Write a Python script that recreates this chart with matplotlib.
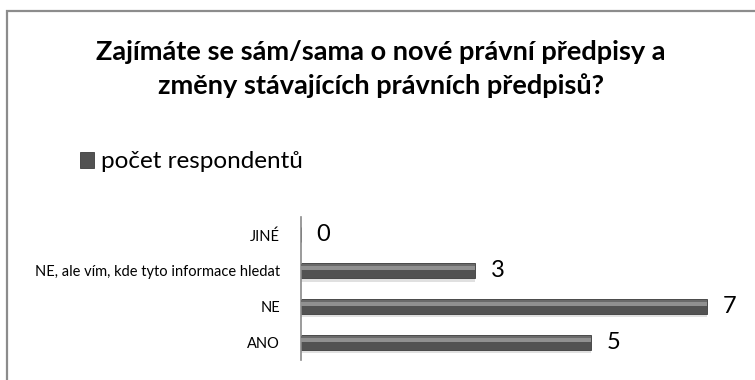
import matplotlib.pyplot as plt
from matplotlib.patches import Rectangle

# odpovědi zdola nahoru, jak jdou v grafu
kategorie = ["ANO", "NE", "NE, ale vím, kde tyto informace hledat", "JINÉ"]
pocty = [5, 7, 3, 0]
nazev = ("Zajímáte se sám/sama o nové právní předpisy a\n"
         "změny stávajících právních předpisů?")
serie = "počet respondentů"

plt.rcParams['font.family'] = ['Lato', 'DejaVu Sans']

fig = plt.figure(figsize=(7.55, 3.8), dpi=100)
fig.patch.set_facecolor('white')

# rámeček celého grafu
fig.patches.append(Rectangle((7 / 755, -0.05), 1.1, 1 - 11 / 380 + 0.05,
                             transform=fig.transFigure, fill=False,
                             edgecolor='#8c8c8c', lw=1.6))

ax = fig.add_axes([301 / 755, 20 / 380, 429 / 755, 143 / 380])
y = range(len(kategorie))

# stín pod pruhy
ax.barh([i - 0.13 for i in y], pocty, height=0.36, color='#c8c8c8',
        alpha=0.55, zorder=1)
bars = ax.barh(y, pocty, height=0.42, color='#525252', edgecolor='#3c3c3c',
               lw=0.6, zorder=2, label=serie)
# světlý pruh nahoře pro plastický vzhled
ax.barh([i + 0.07 for i in y], pocty, height=0.11, color='#909090', zorder=3)
ax.barh([i + 0.15 for i in y], pocty, height=0.05, color='#6a6a6a', zorder=3)

for i, v in enumerate(pocty):
    ax.text(v + 0.27, i, str(v), va='center', ha='left', fontsize=17,
            color='black')

ax.set_xlim(0, 7.4)
ax.set_ylim(-0.5, 3.5)
ax.set_yticks(list(y))
ax.set_yticklabels(kategorie, fontsize=10.5)
ax.tick_params(axis='y', length=0, pad=15)
ax.set_xticks([])
for s in ['top', 'right', 'bottom']:
    ax.spines[s].set_visible(False)
ax.spines['left'].set_color('#8a8a8a')
ax.spines['left'].set_linewidth(1.2)

fig.text(381 / 755, 1 - 69 / 380, nazev, ha='center', va='center',
         fontsize=19.5, fontweight='bold', linespacing=1.4)

fig.legend(handles=[bars], labels=[serie], loc='center left',
           bbox_to_anchor=(58 / 755, 1 - 162 / 380), frameon=False,
           fontsize=17.5, handlelength=0.6, handleheight=0.6,
           handletextpad=0.25)

fig.savefig('out.png', dpi=100)
